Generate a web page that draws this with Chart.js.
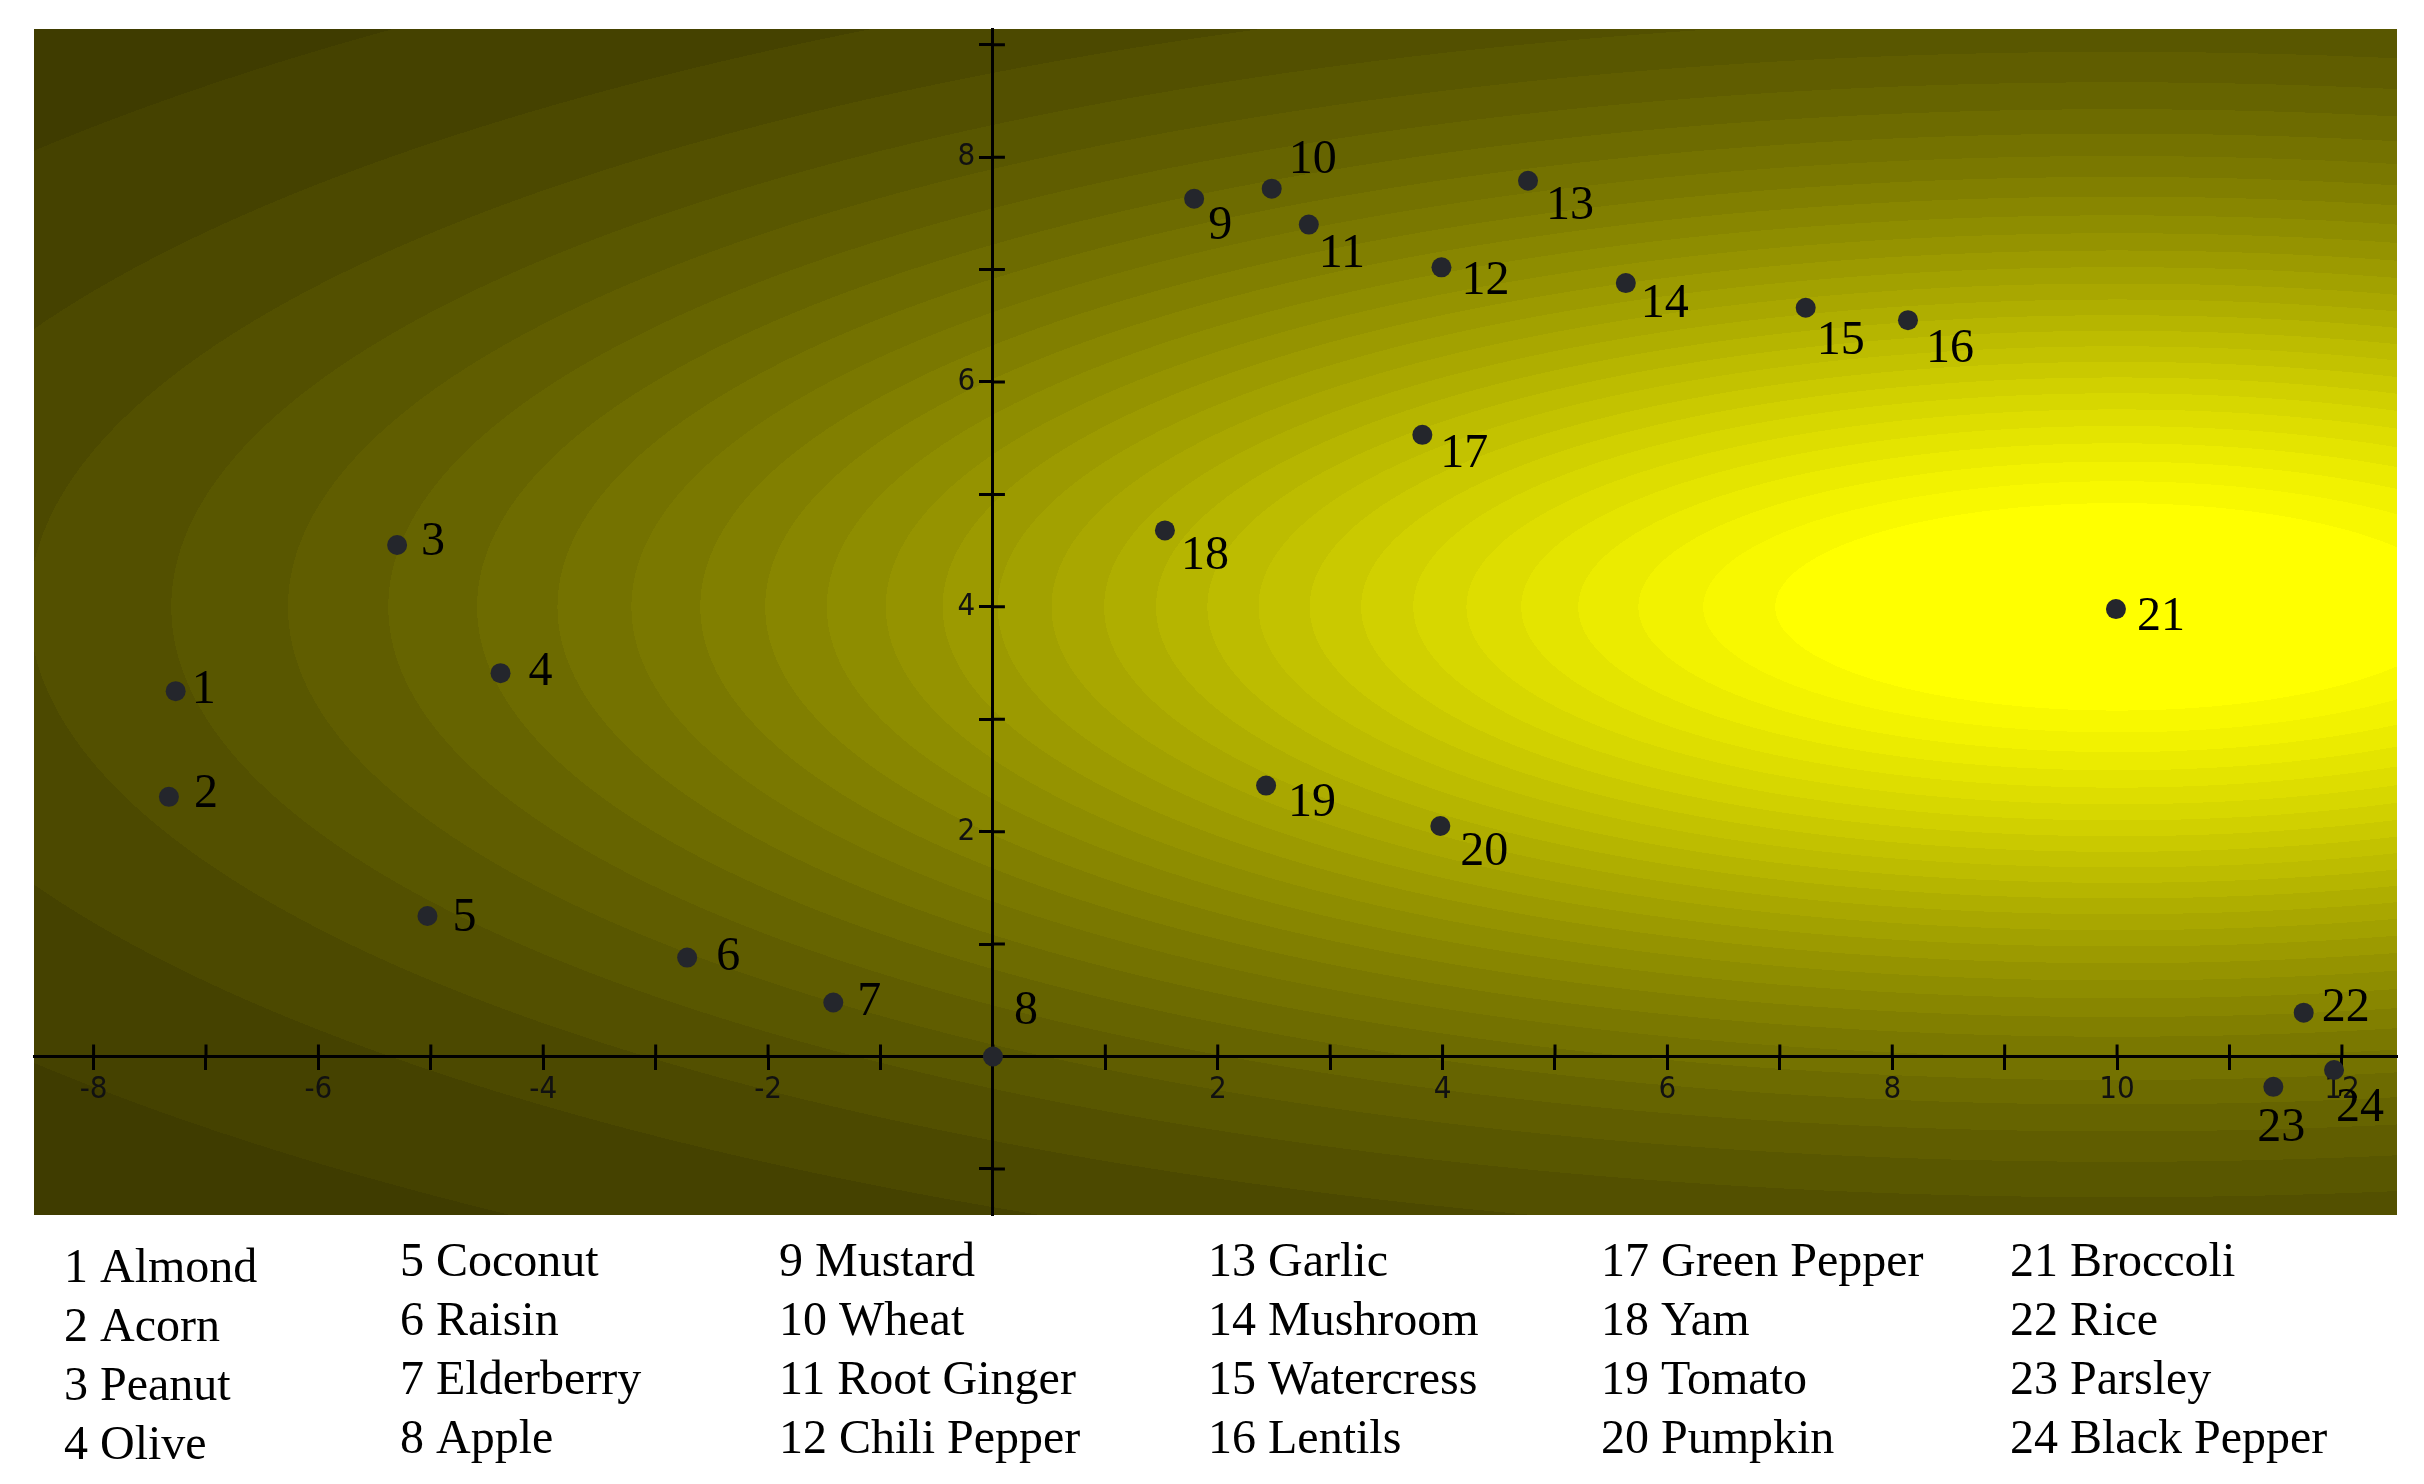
<!DOCTYPE html>
<html>
<head>
<meta charset="utf-8">
<script src="https://cdn.jsdelivr.net/npm/chart.js@4.4.1/dist/chart.umd.min.js"></script>
<style>
  html, body { margin: 0; padding: 0; background: #fff; }
  canvas { display: block; }
</style>
</head>
<body>
<canvas id="myChart" width="2424" height="1484"></canvas>
<script>
// foods, numbered 1..24 in the legend
const names = ['Almond', 'Acorn', 'Peanut', 'Olive', 'Coconut', 'Raisin', 'Elderberry', 'Apple',
    'Mustard', 'Wheat', 'Root Ginger', 'Chili Pepper', 'Garlic', 'Mushroom', 'Watercress', 'Lentils',
    'Green Pepper', 'Yam', 'Tomato', 'Pumpkin', 'Broccoli', 'Rice', 'Parsley', 'Black Pepper'];
const xs = [-7.27, -7.33, -5.30, -4.38, -5.03, -2.72, -1.42, 0, 1.79, 2.48, 2.81, 3.99,
    4.76, 5.63, 7.23, 8.14, 3.82, 1.53, 2.43, 3.98, 9.99, 11.66, 11.39, 11.93];
const ys = [3.25, 2.31, 4.55, 3.41, 1.25, 0.88, 0.48, 0, 7.63, 7.72, 7.40, 7.02,
    7.79, 6.88, 6.66, 6.55, 5.53, 4.68, 2.41, 2.05, 3.98, 0.39, -0.27, -0.12];

const xTickLabels = [-8, -6, -4, -2, 2, 4, 6, 8, 10, 12];
const yTickLabels = [2, 4, 6, 8];

// where each number sits next to its dot (px)
const labelOffsets = [[28, -1], [37, -2], [36, -3], [40, -1], [37, 2], [41, 0], [36, 0], [33, -45],
    [26, 28], [41, -28], [33, 30], [44, 14], [42, 26], [39, 21], [35, 34], [42, 29],
    [42, 20], [40, 26], [46, 18], [44, 26], [45, 8], [42, -4], [8, 42], [26, 38]];

// background landscape: peak, spread (data units), shape, number of colour bands
const peak = { x: 10, y: 4 };
const spread = { x: 11.7, y: 3.55 };
const shape = 1.85;
const boost = 1.05;
const bands = 30;
const darkColor = [56, 53, 0];
const brightColor = [255, 255, 0];

const serif = "'Liberation Serif', 'Times New Roman', serif";

const backgroundPlugin = {
    id: 'landscape',
    beforeDraw(chart) {
        const { ctx, chartArea: a, scales: { x, y } } = chart;
        const w = Math.round(a.right - a.left), h = Math.round(a.bottom - a.top);
        if (!this.img || this.img.width !== w || this.img.height !== h) {
            const img = ctx.createImageData(w, h);
            const cx = x.getPixelForValue(peak.x), cy = y.getPixelForValue(peak.y);
            const sx = x.getPixelForValue(peak.x + spread.x) - cx;
            const sy = cy - y.getPixelForValue(peak.y + spread.y);
            for (let j = 0; j < h; j++) {
                const dy = (a.top + j + 0.5 - cy) / sy;
                for (let i = 0; i < w; i++) {
                    const dx = (a.left + i + 0.5 - cx) / sx;
                    const r2 = dx * dx + dy * dy;
                    let t = Math.min(1, boost * Math.exp(-Math.pow(r2, shape / 2)));
                    t = Math.ceil(t * bands) / bands;
                    const k = (j * w + i) * 4;
                    img.data[k] = darkColor[0] + (brightColor[0] - darkColor[0]) * t;
                    img.data[k + 1] = darkColor[1] + (brightColor[1] - darkColor[1]) * t;
                    img.data[k + 2] = darkColor[2] + (brightColor[2] - darkColor[2]) * t;
                    img.data[k + 3] = 255;
                }
            }
            this.img = img;
        }
        ctx.putImageData(this.img, Math.round(a.left), Math.round(a.top));
    },
    // the other half of each tick mark (Chart.js only draws the outer half)
    beforeDatasetsDraw(chart) {
        const { ctx, scales: { x, y } } = chart;
        const x0 = x.getPixelForValue(0), y0 = y.getPixelForValue(0);
        ctx.save();
        ctx.strokeStyle = '#000';
        ctx.lineWidth = 3;
        ctx.beginPath();
        x.ticks.forEach(t => {
            const px = x.getPixelForValue(t.value);
            ctx.moveTo(px, y0 - 12);
            ctx.lineTo(px, y0);
        });
        y.ticks.forEach(t => {
            const py = y.getPixelForValue(t.value);
            ctx.moveTo(x0, py);
            ctx.lineTo(x0 + 12, py);
        });
        ctx.stroke();
        ctx.restore();
    }
};

const labelsPlugin = {
    id: 'pointNumbers',
    afterDatasetsDraw(chart) {
        const { ctx } = chart;
        const meta = chart.getDatasetMeta(0);
        ctx.save();
        ctx.fillStyle = '#000';
        ctx.font = '48px ' + serif;
        ctx.textAlign = 'center';
        ctx.textBaseline = 'middle';
        meta.data.forEach((pt, i) => {
            ctx.fillText(String(i + 1), pt.x + labelOffsets[i][0], pt.y + labelOffsets[i][1]);
        });
        ctx.restore();
    }
};

// numbered list of names under the plot, 6 columns of 4
const legendPlugin = {
    id: 'nameList',
    afterDraw(chart) {
        const { ctx } = chart;
        const colX = [64, 400, 779, 1208, 1601, 2010];
        const rowY = [1276, 1335, 1394, 1453];
        ctx.save();
        ctx.fillStyle = '#000';
        ctx.font = '48px ' + serif;
        ctx.textAlign = 'left';
        ctx.textBaseline = 'alphabetic';
        names.forEach((n, i) => {
            const col = Math.floor(i / 4), row = i % 4;
            ctx.fillText((i + 1) + ' ' + n, colX[col], rowY[row] + (col === 0 ? 6 : 0));
        });
        ctx.restore();
    }
};

const tickFont = { family: "'Liberation Sans Narrow', 'DejaVu Sans Condensed', sans-serif", size: 31 };

const ctx = document.getElementById('myChart').getContext('2d');
const myChart = new Chart(ctx, {
    type: 'scatter',
    data: {
        datasets: [{
            label: 'foods',
            data: xs.map((v, i) => ({ x: v, y: ys[i] })),
            backgroundColor: '#24262c',
            borderWidth: 0,
            pointRadius: 10,
            pointHoverRadius: 10
        }]
    },
    options: {
        responsive: false,
        animation: false,
        devicePixelRatio: 1,
        layout: { padding: { left: 34, right: 27, top: 29, bottom: 269 } },
        plugins: {
            legend: { display: false },
            tooltip: { enabled: false }
        },
        scales: {
            x: {
                type: 'linear',
                min: -8.53,
                max: 12.49,
                position: { y: 0 },
                afterFit: s => { s.height = 0; },
                afterBuildTicks: s => { s.ticks = s.ticks.filter(t => Number.isInteger(t.value)); },
                border: { display: true, color: '#000', width: 3 },
                grid: { drawOnChartArea: false, drawTicks: true, tickLength: 12, tickWidth: 3, tickColor: '#000' },
                ticks: {
                    stepSize: 1,
                    includeBounds: false,
                    autoSkip: false,
                    maxRotation: 0,
                    padding: 3,
                    color: '#111',
                    font: tickFont,
                    callback: v => xTickLabels.includes(v) ? String(v) : ''
                }
            },
            y: {
                type: 'linear',
                min: -1.41,
                max: 9.14,
                position: { x: 0 },
                afterFit: s => { s.width = 0; },
                afterBuildTicks: s => { s.ticks = s.ticks.filter(t => Number.isInteger(t.value)); },
                border: { display: true, color: '#000', width: 3 },
                grid: { drawOnChartArea: false, drawTicks: true, tickLength: 12, tickWidth: 3, tickColor: '#000' },
                ticks: {
                    stepSize: 1,
                    includeBounds: false,
                    autoSkip: false,
                    color: '#111',
                    font: tickFont,
                    // labels of a centred y axis sit right against the line, so pad with spaces
                    callback: v => yTickLabels.includes(v) ? v + '  ' : ''
                }
            }
        }
    },
    plugins: [backgroundPlugin, labelsPlugin, legendPlugin]
});
</script>
</body>
</html>
